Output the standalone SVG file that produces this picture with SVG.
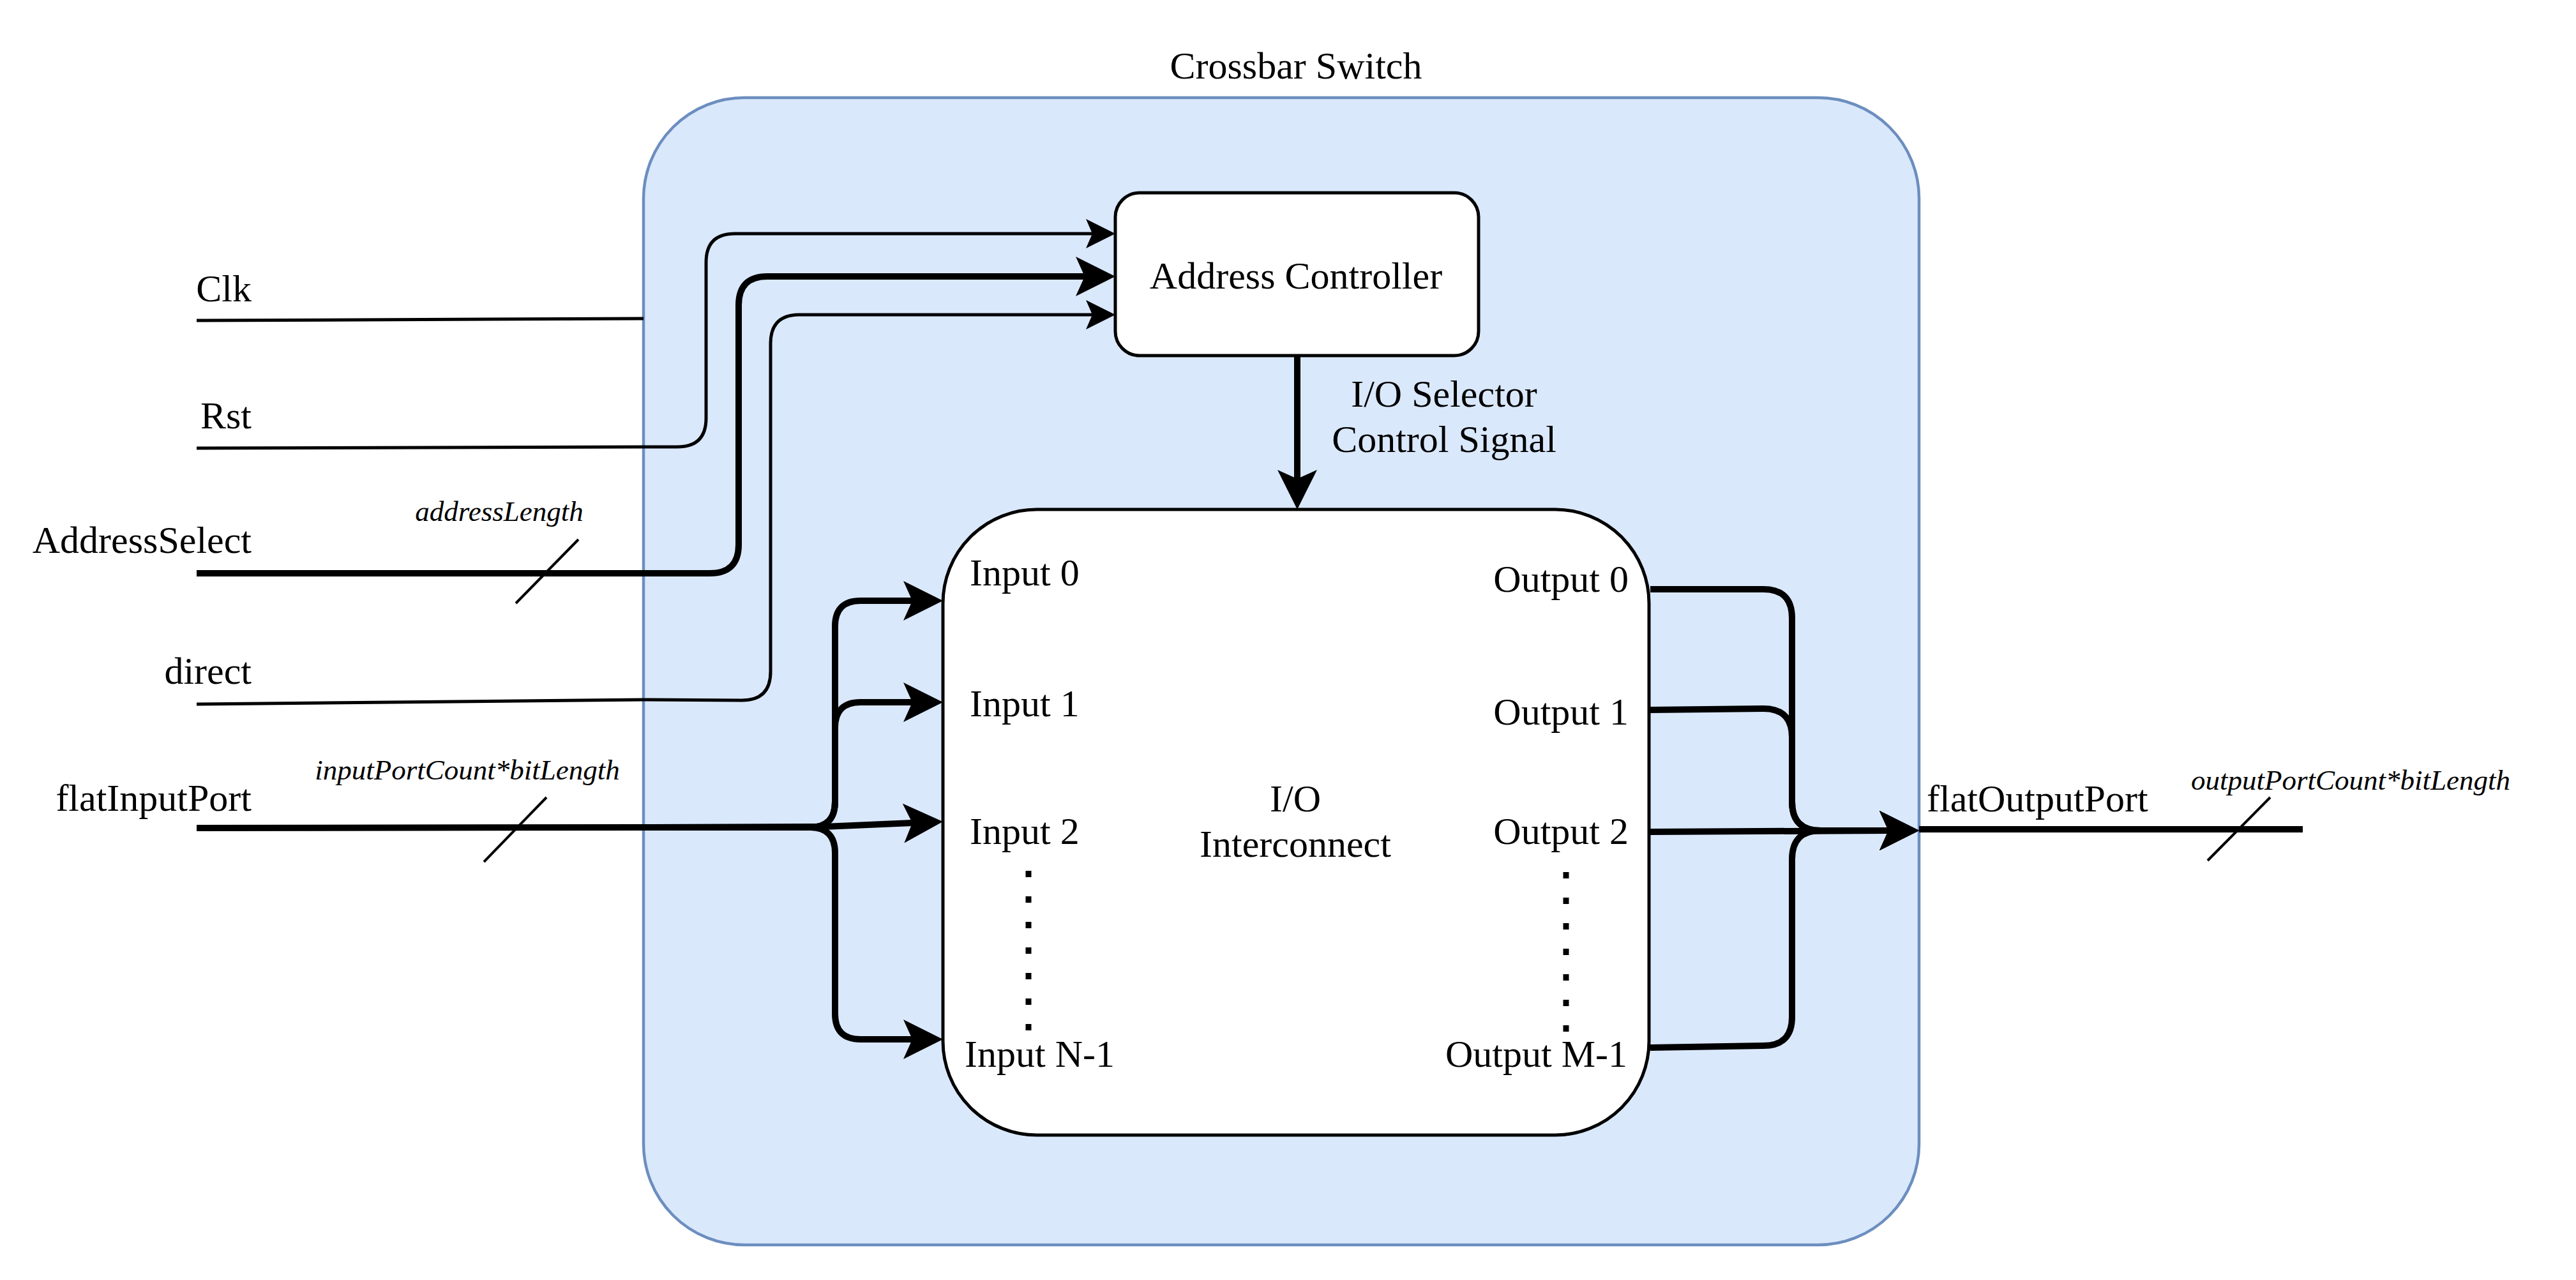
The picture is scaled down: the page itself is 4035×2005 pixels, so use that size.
<svg xmlns="http://www.w3.org/2000/svg" width="4035" height="2005" viewBox="0 0 4035 2005">
<style>
.t{font-family:"Liberation Serif","Times New Roman",serif;font-size:60px;fill:#000}
.i{font-family:"Liberation Serif","Times New Roman",serif;font-size:45px;font-style:italic;fill:#000}
.thin{fill:none;stroke:#000;stroke-width:5}
.thick{fill:none;stroke:#000;stroke-width:10}
.slash{stroke:#000;stroke-width:4;fill:none}
.dots{stroke:#000;stroke-width:9;stroke-dasharray:10 30;fill:none}
.box{fill:#fff;stroke:#000;stroke-width:5}
</style>
<defs>
<marker id="ah" markerUnits="userSpaceOnUse" viewBox="0 -31 62 62" markerWidth="62" markerHeight="62" refX="14" refY="0" orient="auto"><path d="M0,-31 L62,0 L0,31 L14,0 Z" fill="#000"/></marker>
<marker id="as" markerUnits="userSpaceOnUse" viewBox="0 -23 46 46" markerWidth="46" markerHeight="46" refX="10" refY="0" orient="auto"><path d="M0,-23 L46,0 L0,23 L10,0 Z" fill="#000"/></marker>
</defs>
<rect width="4035" height="2005" fill="#fff"/>
<g id="crossbar-switch">
<rect x="1008" y="153" width="1998" height="1797" rx="158" ry="158" fill="#dae8fc" stroke="#6c8ebf" stroke-width="4.5"/>
<text class="t" x="2030" y="123" text-anchor="middle">Crossbar Switch</text>
</g>
<g id="address-controller">
<rect class="box" x="1747" y="302" width="569" height="255" rx="38" ry="38"/>
<text class="t" x="2030" y="452" text-anchor="middle">Address Controller</text>
</g>
<g id="io-interconnect">
<rect class="box" x="1477" y="798" width="1106" height="980" rx="147" ry="147"/>
<text class="t" x="2029" y="1271" text-anchor="middle">I/O</text>
<text class="t" x="2029" y="1342" text-anchor="middle">Interconnect</text>
<text class="t" x="1519" y="917">Input 0</text>
<text class="t" x="1519" y="1122">Input 1</text>
<text class="t" x="1519" y="1322">Input 2</text>
<text class="t" x="1511" y="1671">Input N-1</text>
<text class="t" x="2551" y="927" text-anchor="end">Output 0</text>
<text class="t" x="2551" y="1135" text-anchor="end">Output 1</text>
<text class="t" x="2551" y="1322" text-anchor="end">Output 2</text>
<text class="t" x="2549" y="1671" text-anchor="end">Output M-1</text>
<path class="dots" d="M1611,1364 L1611,1614"/>
<path class="dots" d="M2453,1366 L2453,1616"/>
</g>
<g id="connectors">
<path class="thin" d="M308,502 L1008,499"/>
<path class="thin" marker-end="url(#as)" d="M308,702 L1006,700 L1061,700 Q1106,700 1106,655 L1106,411 Q1106,366 1151,366 L1711,366"/>
<path class="thick" marker-end="url(#ah)" d="M308,898 L1112,898 Q1157,898 1157,853 L1157,478 Q1157,433 1202,433 L1699,433"/>
<path class="thin" marker-end="url(#as)" d="M308,1103 L1006,1096 L1162,1097 Q1207,1097 1207,1052 L1207,538 Q1207,493 1252,493 L1711,493"/>
<path class="thick" marker-end="url(#ah)" d="M2032,557 L2032,750"/>
<path class="thick" marker-end="url(#ah)" d="M308,1297 L1006,1296 L1290,1295 L1429,1289"/>
<path class="thick" marker-end="url(#ah)" d="M1006,1296 L1268,1296 Q1308,1296 1308,1256 L1308,981 Q1308,941 1348,941 L1429,941"/>
<path class="thick" marker-end="url(#ah)" d="M1006,1296 L1268,1296 Q1308,1296 1308,1256 L1308,1140 Q1308,1100 1348,1100 L1429,1100"/>
<path class="thick" marker-end="url(#ah)" d="M1006,1296 L1268,1296 Q1308,1296 1308,1336 L1308,1588 Q1308,1628 1348,1628 L1429,1628"/>
<path class="thick" marker-end="url(#ah)" d="M2585,923 L2762,923 Q2807,923 2807,968 L2807,1256 Q2807,1301 2852,1301 L2958,1301"/>
<path class="thick" marker-end="url(#ah)" d="M2585,1112 L2762,1110 Q2807,1110 2807,1155 L2807,1256 Q2807,1301 2852,1301 L2958,1301"/>
<path class="thick" marker-end="url(#ah)" d="M2585,1303 L2958,1301"/>
<path class="thick" marker-end="url(#ah)" d="M2585,1641 L2762,1638 Q2807,1638 2807,1593 L2807,1346 Q2807,1301 2852,1301 L2958,1301"/>
<path class="thick" d="M3006,1299 L3607,1299"/>
</g>
<g id="labels">
<text class="t" x="394" y="472" text-anchor="end">Clk</text>
<text class="t" x="394" y="671" text-anchor="end">Rst</text>
<text class="t" x="394" y="866" text-anchor="end">AddressSelect</text>
<text class="t" x="394" y="1071" text-anchor="end">direct</text>
<text class="t" x="394" y="1270" text-anchor="end">flatInputPort</text>
<text class="t" x="3018" y="1271">flatOutputPort</text>
<text class="t" x="2262" y="637" text-anchor="middle">I/O Selector</text>
<text class="t" x="2262" y="708" text-anchor="middle">Control Signal</text>
<text class="i" x="782" y="816" text-anchor="middle">addressLength</text>
<text class="i" x="732" y="1221" text-anchor="middle">inputPortCount*bitLength</text>
<text class="i" x="3682" y="1237" text-anchor="middle">outputPortCount*bitLength</text>
<path class="slash" d="M906,845 L808,945"/>
<path class="slash" d="M856,1249 L758,1350"/>
<path class="slash" d="M3556,1249 L3458,1348"/>
</g>
</svg>
